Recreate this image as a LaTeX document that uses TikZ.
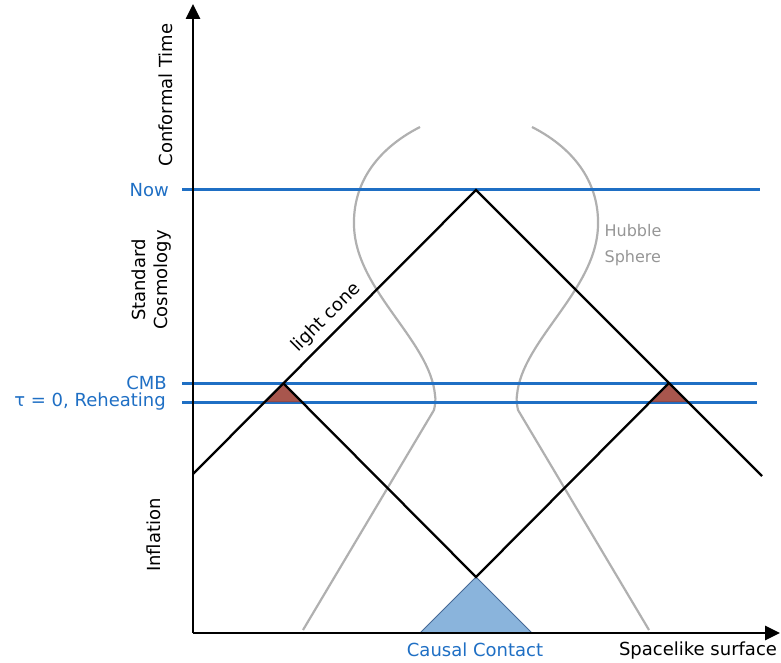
\documentclass[tikz,border=0pt]{standalone}
\usepackage{fontspec}
\setmainfont{DejaVu Sans}
\usetikzlibrary{arrows.meta}

\definecolor{epochblue}{RGB}{31,111,196}
\definecolor{hubblegray}{RGB}{176,176,176}
\definecolor{horizonred}{RGB}{158,68,58}
\definecolor{contactblue}{RGB}{138,180,220}
\definecolor{contactedge}{RGB}{70,105,150}

\begin{document}
\begin{tikzpicture}[
	x=1pt, y=-1pt,
	timeaxis/.style={line width=2.6pt, -{Triangle[length=15pt,width=14pt]}},
	epoch/.style={draw=epochblue, line width=3pt},
	cone/.style={line width=2.3pt},
	hubble/.style={draw=hubblegray, line width=2.2pt},
	txt/.style={font=\fontsize{18}{22}\selectfont, inner sep=1pt},
	era/.style={txt, rotate=90, align=center},
	epochtxt/.style={txt, text=epochblue, anchor=east},
]
\useasboundingbox (0,0) rectangle (781,663);

% points of the diagram
\coordinate (o) at (193,633);
\coordinate (ttip) at (193,4);
\coordinate (xtip) at (780,633);
\coordinate (now) at (476,190);
\coordinate (src) at (476,577);
\coordinate (coneL) at (193,474);
\coordinate (coneR) at (762,476);
\coordinate (cmbL) at (283,383);
\coordinate (cmbR) at (669,383);
\coordinate (rehL1) at (264,402);
\coordinate (rehL2) at (302,402);
\coordinate (rehR1) at (650,402);
\coordinate (rehR2) at (688,402);
\coordinate (ccL) at (420,633);
\coordinate (ccR) at (532,633);

% hubble sphere
\draw[hubble] (420,127) .. controls (375,150) and (353,185) .. (354,225)
	.. controls (355,290) and (430,340) .. (435,395)
	.. controls (436,400) and (435,405) .. (434,410) -- (303,630);
\draw[hubble] (532,127) .. controls (577,150) and (599,185) .. (598,225)
	.. controls (597,290) and (522,340) .. (517,395)
	.. controls (516,400) and (517,405) .. (518,410) -- (649,630);

% epochs
\coordinate (nowA) at (182,190);
\coordinate (nowB) at (760,190);
\coordinate (cmbA) at (182,383);
\coordinate (cmbB) at (757,383);
\coordinate (rehA) at (182,402);
\coordinate (rehB) at (757,402);
\draw[epoch] (nowA) -- (nowB);
\draw[epoch] (cmbA) -- (cmbB);
\draw[epoch] (rehA) -- (rehB);

% horizon problem
\fill[horizonred, opacity=0.9] (cmbL) -- (rehL1) -- (rehL2) -- cycle;
\fill[horizonred, opacity=0.9] (cmbR) -- (rehR1) -- (rehR2) -- cycle;
\draw[contactedge, line width=1pt, fill=contactblue] (ccL) -- (src) -- (ccR) -- cycle;

% light cones
\draw[cone] (coneL) -- (now) -- (coneR);
\draw[cone] (cmbL) -- (src) -- (cmbR);

% axes
\draw[timeaxis] (o) -- (ttip);
\draw[timeaxis] (o) -- (xtip);

\node[era] (ct) at (166,95) {Conformal Time};
\node[era] (sc) at (152,280) {Standard\\Cosmology};
\node[era] (inf) at (154,535) {Inflation};
\node[epochtxt] (nowtxt) at (170,190) {Now};
\node[epochtxt] (cmbtxt) at (168,383) {CMB};
\node[epochtxt] (rehtxt) at (167,402) {τ = 0, Reheating};
\node[txt, font=\fontsize{16}{26}\selectfont, text=hubblegray!85!black, align=left] (hs) at (633,245) {Hubble\\Sphere};
\node[txt, rotate=45] (lc) at (326,318) {light cone};
\node[txt, text=epochblue] (cc) at (475,650) {Causal Contact};
\node[txt] (sl) at (698,651) {Spacelike surface};

\end{tikzpicture}
\end{document}
